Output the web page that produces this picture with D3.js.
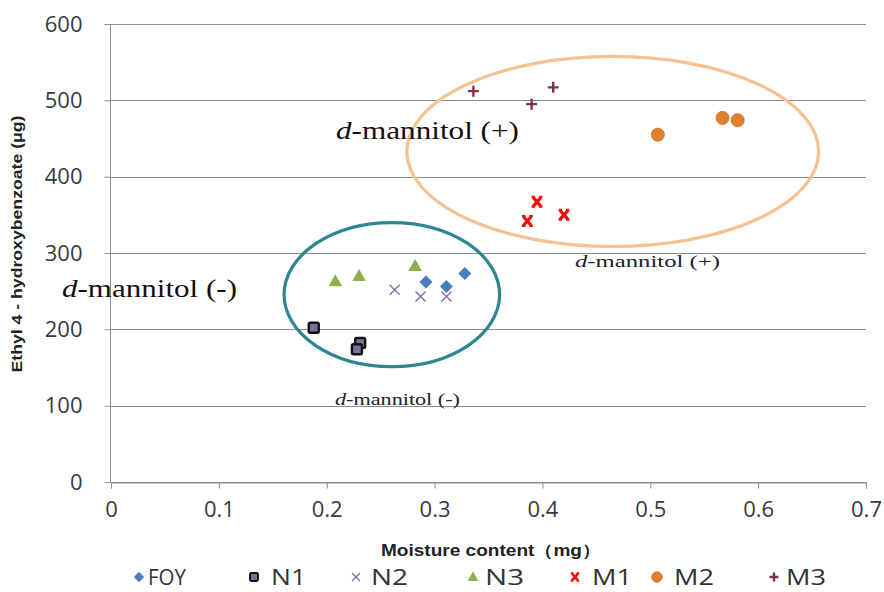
<!DOCTYPE html>
<html><head><meta charset="utf-8">
<script src="https://cdn.jsdelivr.net/npm/d3@7/dist/d3.min.js"></script>
<style>body{margin:0;background:#fff;}svg{display:block;}</style>
</head><body><svg id="c" width="884" height="592"></svg>
<script>
// ---- data ----
const seriesNames = ["FOY","N1","N2","N3","M1","M2","M3"];
const foyX = [0.292, 0.311, 0.328], foyY = [262, 256, 273];
const n1X  = [0.188, 0.231, 0.228], n1Y  = [202, 182, 174];
const n2X  = [0.263, 0.287, 0.311], n2Y  = [252, 243, 243];
const n3X  = [0.208, 0.230, 0.282], n3Y  = [263, 270, 283];
const m1X  = [0.395, 0.386, 0.420], m1Y  = [367, 342, 350];
const m2X  = [0.507, 0.567, 0.581], m2Y  = [455, 477, 474];
const m3X  = [0.336, 0.390, 0.410], m3Y  = [512, 495, 517];
const xTicks = [0,0.1,0.2,0.3,0.4,0.5,0.6,0.7];
const yTicks = [0,100,200,300,400,500,600];
// cluster ellipses (data units): cx, cy, rx, ry
const ellMinus = [0.2604, 245.5, 0.0999, 94.4];
const ellPlus  = [0.4652, 433, 0.1909, 124.5];

const xs = [foyX,n1X,n2X,n3X,m1X,m2X,m3X], ys = [foyY,n1Y,n2Y,n3Y,m1Y,m2Y,m3Y];
const series = seriesNames.map((n,i)=>({name:n, pts: xs[i].map((x,j)=>({x, y: ys[i][j]}))}));

const svg = d3.select("#c");
const x = d3.scaleLinear().domain([0,0.7]).range([111,866]);
const y = d3.scaleLinear().domain([0,600]).range([482,24]);

// gridlines
svg.append("g").selectAll("line").data(yTicks).join("line")
  .attr("x1",110).attr("x2",866).attr("y1",d=>Math.round(y(d))+0.5).attr("y2",d=>Math.round(y(d))+0.5)
  .attr("stroke","#8c8c8c").attr("stroke-width",1);

// axes
const yAxis = svg.append("g").attr("transform","translate(110.5,0)")
  .call(d3.axisLeft(y).tickValues(yTicks).tickSize(6).tickPadding(22).tickFormat(d3.format("d")));
const xAxis = svg.append("g").attr("transform",`translate(0,${Math.round(y(0))+0.5})`)
  .call(d3.axisBottom(x).tickValues(xTicks).tickSize(6).tickPadding(19).tickFormat(d=>d===0?"0":d3.format(".1f")(d)));
[yAxis,xAxis].forEach(a=>{
  a.select(".domain").attr("stroke","#8c8c8c");
  a.selectAll(".tick line").attr("stroke","#8c8c8c");
  a.selectAll("text").attr("font-family","'Open Sans', sans-serif").attr("font-size",22).attr("fill","#3a3a3a");
});
yAxis.select(".domain").attr("d",`M0,${y(600)}V${y(0)}`);
xAxis.selectAll("text").attr("dy","0.45em");

// axis titles
svg.append("text").attr("x",491).attr("y",556).attr("text-anchor","middle")
  .attr("font-family","'Liberation Sans', sans-serif").attr("font-weight","bold").attr("font-size",16)
  .attr("fill","#222").attr("textLength",220).attr("lengthAdjust","spacingAndGlyphs")
  .text("Moisture content（mg）");
svg.append("text").attr("transform","translate(22,244) rotate(-90)").attr("text-anchor","middle")
  .attr("font-family","'Liberation Sans', sans-serif").attr("font-weight","bold").attr("font-size",15)
  .attr("fill","#222").attr("textLength",257).attr("lengthAdjust","spacingAndGlyphs")
  .text("Ethyl 4 - hydroxybenzoate (μg)");

// ellipses
function ell(e,col){
  svg.append("ellipse").attr("cx",x(e[0])).attr("cy",y(e[1]))
    .attr("rx",x(e[2])-x(0)).attr("ry",y(0)-y(e[3]))
    .attr("fill","none").attr("stroke",col).attr("stroke-width",3.2);
}
ell(ellPlus,"#f6c193");
ell(ellMinus,"#2e8692");

// markers
const colors = {FOY:"#4a7ebb",N1:"#7d6f99",N2:"#7d6fa8",N3:"#8db04a",M1:"#f20d0d",M2:"#e0802f",M3:"#7e3446"};
function marker(g,name,s){
  const c = colors[name];
  switch(name){
    case "FOY": g.append("path").attr("d",`M0,${-6.5*s}L${6.5*s},0L0,${6.5*s}L${-6.5*s},0Z`).attr("fill",c); break;
    case "N1": g.append("rect").attr("x",-5*s).attr("y",-5*s).attr("width",10*s).attr("height",10*s).attr("rx",1.5)
      .attr("fill",c).attr("stroke","#111").attr("stroke-width",2.4*s); break;
    case "N2": g.append("path").attr("d",`M${-5*s},${-5*s}L${5*s},${5*s}M${-5*s},${5*s}L${5*s},${-5*s}`)
      .attr("stroke",c).attr("stroke-width",1.4).attr("fill","none"); break;
    case "N3": g.append("path").attr("d",`M0,${-7*s}L${6.8*s},${5*s}L${-6.8*s},${5*s}Z`).attr("fill",c); break;
    case "M1":
      g.append("path").attr("d",`M${-4*s},${-4.5*s}L${4*s},${4.5*s}M${-4*s},${4.5*s}L${4*s},${-4.5*s}`)
        .attr("stroke",c).attr("stroke-width",3.2*s).attr("fill","none");
      g.append("path").attr("d",`M${-5.5*s},${-5*s}H${-2*s}M${2*s},${-5*s}H${5.5*s}M${-5.5*s},${5*s}H${-2*s}M${2*s},${5*s}H${5.5*s}`)
        .attr("stroke",c).attr("stroke-width",2*s).attr("fill","none");
      break;
    case "M2": g.append("circle").attr("r",6.5*s).attr("fill",c).attr("stroke","#d9782a").attr("stroke-width",1); break;
    case "M3": g.append("path").attr("d",`M${-5.5*s},0H${5.5*s}M0,${-5.5*s}V${5.5*s}`)
      .attr("stroke",c).attr("stroke-width",2.4).attr("fill","none"); break;
  }
}
series.forEach(sr=>{
  sr.pts.forEach(p=>{
    const g = svg.append("g").attr("transform",`translate(${x(p.x)},${y(p.y)})`);
    marker(g,sr.name,1);
  });
});

// annotation labels
function lab(px,py,size,txt,len,col){
  const t = svg.append("text").attr("x",px).attr("y",py)
    .attr("font-family","'Liberation Serif', serif").attr("font-size",size).attr("fill",col)
    .attr("textLength",len).attr("lengthAdjust","spacingAndGlyphs");
  t.append("tspan").attr("font-style","italic").text("d");
  t.append("tspan").text(txt);
}
lab(336,139,25,"-mannitol (+)",183,"#111");
lab(62,297,25,"-mannitol (-)",175,"#111");
lab(575,267,17,"-mannitol (+)",145,"#222");
lab(335,405,17,"-mannitol (-)",125,"#222");

// legend
const legPos = [139,254,356,473,575,657,774];
const legTextX = [9,17,15,12,17,17,12];
const legTextW = [38,35,37,39,40,40,40];
const leg = svg.append("g");
seriesNames.forEach((n,i)=>{
  const g = leg.append("g").attr("transform",`translate(${legPos[i]},577)`);
  marker(g,n,0.8);
  g.append("text").attr("x",legTextX[i]).attr("y",0).attr("dy","0.36em")
    .attr("font-family","'Open Sans', sans-serif").attr("font-size",21).attr("fill","#333")
    .attr("textLength",legTextW[i]).attr("lengthAdjust","spacingAndGlyphs").text(n);
});
</script></body></html>
